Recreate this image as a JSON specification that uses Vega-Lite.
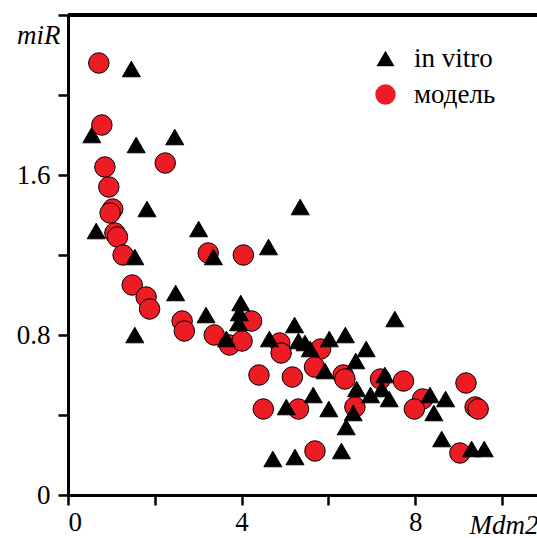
{
  "$schema": "https://vega.github.io/schema/vega-lite/v6.json",
  "width": 469,
  "height": 480,
  "autosize": {"type": "none"},
  "padding": {"left": 68, "top": 15, "right": 0, "bottom": 43},
  "background": "white",
  "config": {
    "view": {"stroke": null},
    "font": "Liberation Serif, serif",
    "axis": {"labelFont": "Liberation Serif, serif", "titleFont": "Liberation Serif, serif"},
    "legend": {
      "orient": "none",
      "legendX": 304,
      "legendY": 30,
      "labelFont": "Liberation Serif, serif",
      "labelFontSize": 27,
      "labelColor": "black",
      "labelOffset": 15,
      "rowPadding": 8,
      "symbolStrokeColor": "black",
      "symbolStrokeWidth": 1,
      "symbolOpacity": 1
    }
  },
  "data": {
    "values": [
      {"type": "in vitro", "mdm2": 0.55, "mir": 1.80},
      {"type": "модель", "mdm2": 0.71, "mir": 2.16},
      {"type": "модель", "mdm2": 0.78, "mir": 1.85},
      {"type": "модель", "mdm2": 2.24, "mir": 1.66},
      {"type": "модель", "mdm2": 0.85, "mir": 1.64},
      {"type": "модель", "mdm2": 0.94, "mir": 1.54},
      {"type": "модель", "mdm2": 1.03, "mir": 1.43},
      {"type": "модель", "mdm2": 0.97, "mir": 1.41},
      {"type": "модель", "mdm2": 1.08, "mir": 1.31},
      {"type": "модель", "mdm2": 1.14, "mir": 1.29},
      {"type": "модель", "mdm2": 1.27, "mir": 1.20},
      {"type": "модель", "mdm2": 3.23, "mir": 1.21},
      {"type": "модель", "mdm2": 4.04, "mir": 1.20},
      {"type": "модель", "mdm2": 1.48, "mir": 1.05},
      {"type": "модель", "mdm2": 1.80, "mir": 0.99},
      {"type": "модель", "mdm2": 1.88, "mir": 0.93},
      {"type": "модель", "mdm2": 2.63, "mir": 0.87},
      {"type": "модель", "mdm2": 2.68, "mir": 0.82},
      {"type": "модель", "mdm2": 3.37, "mir": 0.80},
      {"type": "модель", "mdm2": 3.72, "mir": 0.75},
      {"type": "модель", "mdm2": 4.01, "mir": 0.77},
      {"type": "модель", "mdm2": 4.23, "mir": 0.87},
      {"type": "модель", "mdm2": 4.88, "mir": 0.76},
      {"type": "модель", "mdm2": 4.91, "mir": 0.71},
      {"type": "модель", "mdm2": 5.82, "mir": 0.73},
      {"type": "модель", "mdm2": 4.40, "mir": 0.60},
      {"type": "модель", "mdm2": 5.17, "mir": 0.59},
      {"type": "модель", "mdm2": 5.68, "mir": 0.64},
      {"type": "модель", "mdm2": 6.34, "mir": 0.60},
      {"type": "модель", "mdm2": 6.38, "mir": 0.58},
      {"type": "модель", "mdm2": 4.50, "mir": 0.43},
      {"type": "модель", "mdm2": 5.31, "mir": 0.43},
      {"type": "модель", "mdm2": 6.61, "mir": 0.44},
      {"type": "модель", "mdm2": 5.69, "mir": 0.22},
      {"type": "модель", "mdm2": 7.20, "mir": 0.58},
      {"type": "модель", "mdm2": 7.73, "mir": 0.57},
      {"type": "модель", "mdm2": 8.17, "mir": 0.48},
      {"type": "модель", "mdm2": 7.98, "mir": 0.43},
      {"type": "модель", "mdm2": 9.17, "mir": 0.56},
      {"type": "модель", "mdm2": 9.38, "mir": 0.44},
      {"type": "модель", "mdm2": 9.45, "mir": 0.43},
      {"type": "модель", "mdm2": 9.03, "mir": 0.21},
      {"type": "in vitro", "mdm2": 1.46, "mir": 2.13},
      {"type": "in vitro", "mdm2": 1.57, "mir": 1.75},
      {"type": "in vitro", "mdm2": 2.46, "mir": 1.79},
      {"type": "in vitro", "mdm2": 1.82, "mir": 1.43},
      {"type": "in vitro", "mdm2": 0.65, "mir": 1.32},
      {"type": "in vitro", "mdm2": 3.01, "mir": 1.33},
      {"type": "in vitro", "mdm2": 1.54, "mir": 1.19},
      {"type": "in vitro", "mdm2": 3.35, "mir": 1.19},
      {"type": "in vitro", "mdm2": 4.62, "mir": 1.24},
      {"type": "in vitro", "mdm2": 5.35, "mir": 1.44},
      {"type": "in vitro", "mdm2": 2.48, "mir": 1.01},
      {"type": "in vitro", "mdm2": 1.54, "mir": 0.80},
      {"type": "in vitro", "mdm2": 3.18, "mir": 0.90},
      {"type": "in vitro", "mdm2": 3.98, "mir": 0.96},
      {"type": "in vitro", "mdm2": 3.95, "mir": 0.91},
      {"type": "in vitro", "mdm2": 3.93, "mir": 0.86},
      {"type": "in vitro", "mdm2": 3.65, "mir": 0.78},
      {"type": "in vitro", "mdm2": 4.64, "mir": 0.78},
      {"type": "in vitro", "mdm2": 5.22, "mir": 0.85},
      {"type": "in vitro", "mdm2": 5.31, "mir": 0.77},
      {"type": "in vitro", "mdm2": 5.46, "mir": 0.76},
      {"type": "in vitro", "mdm2": 5.58, "mir": 0.73},
      {"type": "in vitro", "mdm2": 6.02, "mir": 0.78},
      {"type": "in vitro", "mdm2": 6.39, "mir": 0.80},
      {"type": "in vitro", "mdm2": 6.87, "mir": 0.73},
      {"type": "in vitro", "mdm2": 6.63, "mir": 0.67},
      {"type": "in vitro", "mdm2": 5.92, "mir": 0.62},
      {"type": "in vitro", "mdm2": 7.53, "mir": 0.88},
      {"type": "in vitro", "mdm2": 7.30, "mir": 0.60},
      {"type": "in vitro", "mdm2": 7.23, "mir": 0.53},
      {"type": "in vitro", "mdm2": 6.97, "mir": 0.50},
      {"type": "in vitro", "mdm2": 7.40, "mir": 0.48},
      {"type": "in vitro", "mdm2": 6.65, "mir": 0.53},
      {"type": "in vitro", "mdm2": 5.65, "mir": 0.50},
      {"type": "in vitro", "mdm2": 5.03, "mir": 0.44},
      {"type": "in vitro", "mdm2": 6.01, "mir": 0.43},
      {"type": "in vitro", "mdm2": 6.57, "mir": 0.41},
      {"type": "in vitro", "mdm2": 6.41, "mir": 0.34},
      {"type": "in vitro", "mdm2": 8.34, "mir": 0.50},
      {"type": "in vitro", "mdm2": 8.70, "mir": 0.48},
      {"type": "in vitro", "mdm2": 8.43, "mir": 0.41},
      {"type": "in vitro", "mdm2": 8.61, "mir": 0.28},
      {"type": "in vitro", "mdm2": 9.30, "mir": 0.23},
      {"type": "in vitro", "mdm2": 9.59, "mir": 0.23},
      {"type": "in vitro", "mdm2": 4.72, "mir": 0.18},
      {"type": "in vitro", "mdm2": 5.23, "mir": 0.19},
      {"type": "in vitro", "mdm2": 6.30, "mir": 0.22}
    ]
  },
  "layer": [
    {
      "mark": {"type": "rule", "color": "black", "strokeWidth": 3},
      "encoding": {"y": {"datum": 2.4, "type": "quantitative"}}
    },
    {
      "mark": {"type": "point", "filled": true, "stroke": "black", "strokeWidth": 1, "opacity": 1},
      "encoding": {
        "x": {
          "field": "mdm2",
          "type": "quantitative",
          "scale": {"domain": [0, 10.806], "nice": false, "zero": false},
          "axis": {
            "values": [0, 2, 4, 6, 8, 10],
            "labelExpr": "datum.value % 4 == 0 ? datum.label : ''",
            "grid": false,
            "domainColor": "black",
            "domainWidth": 3,
            "tickColor": "black",
            "tickWidth": 2.5,
            "tickSize": 10,
            "labelFont": "Liberation Serif, serif",
            "labelFontSize": 27,
            "labelColor": "black",
            "labelPadding": 4,
            "title": "Mdm2",
            "titleFont": "Liberation Serif, serif",
            "titleFontSize": 27,
            "titleFontStyle": "italic",
            "titleFontWeight": "normal",
            "titleColor": "black",
            "titleAlign": "left",
            "titleAnchor": "start",
            "titleBaseline": "alphabetic",
            "titleX": 401,
            "titleY": 38
          }
        },
        "y": {
          "field": "mir",
          "type": "quantitative",
          "scale": {"domain": [0, 2.4], "nice": false, "zero": false},
          "axis": {
            "values": [0, 0.4, 0.8, 1.2, 1.6, 2.0, 2.4],
            "labelExpr": "datum.value == 0 ? '0' : (datum.value == 0.8 ? '0.8' : (datum.value == 1.6 ? '1.6' : ''))",
            "grid": false,
            "domainColor": "black",
            "domainWidth": 3,
            "tickColor": "black",
            "tickWidth": 2.5,
            "tickSize": 10,
            "labelFont": "Liberation Serif, serif",
            "labelFontSize": 27,
            "labelColor": "black",
            "labelPadding": 8,
            "title": "miR",
            "titleFont": "Liberation Serif, serif",
            "titleFontSize": 27,
            "titleFontStyle": "italic",
            "titleFontWeight": "normal",
            "titleColor": "black",
            "titleAngle": 0,
            "titleAlign": "right",
            "titleBaseline": "alphabetic",
            "titleX": -8,
            "titleY": 28
          }
        },
        "shape": {
          "field": "type",
          "type": "nominal",
          "scale": {"domain": ["in vitro", "модель"], "range": ["triangle-up", "circle"]},
          "legend": {"title": null}
        },
        "color": {
          "field": "type",
          "type": "nominal",
          "scale": {"domain": ["in vitro", "модель"], "range": ["#000000", "#ed1c24"]},
          "legend": {"title": null}
        },
        "size": {
          "field": "type",
          "type": "nominal",
          "scale": {"domain": ["in vitro", "модель"], "range": [324, 420]},
          "legend": {"title": null}
        }
      }
    }
  ]
}
